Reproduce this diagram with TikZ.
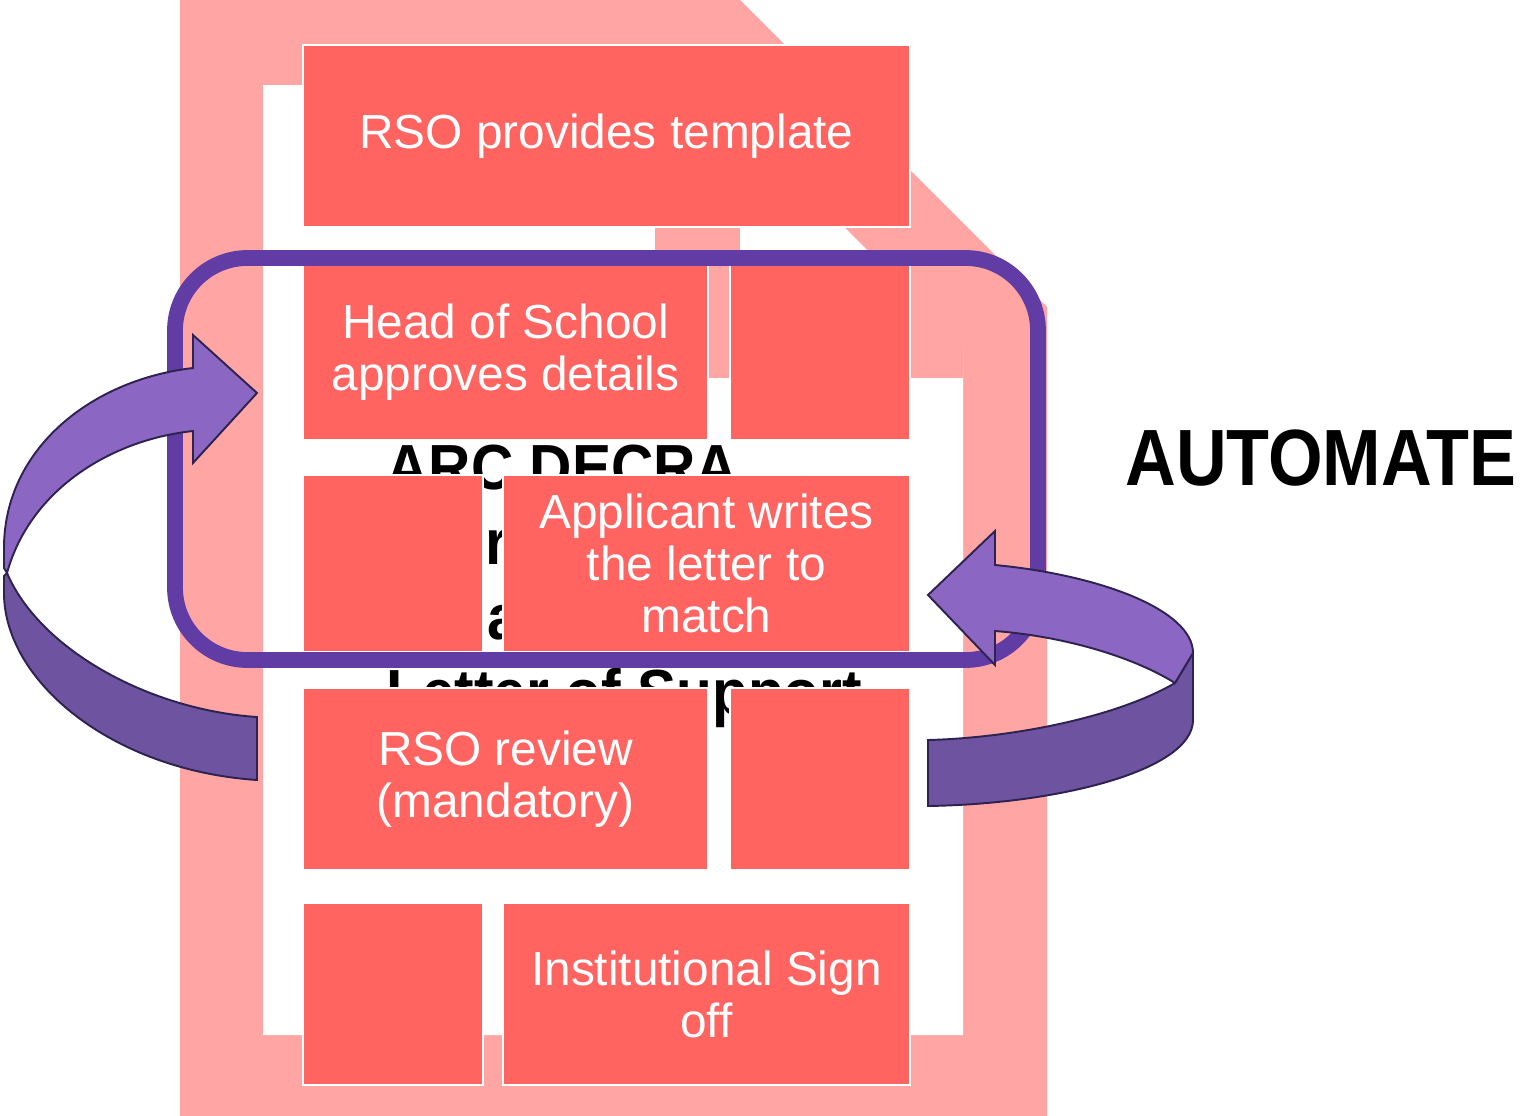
\documentclass[tikz,border=0pt]{standalone}
\usepackage{fontspec}
\setmainfont{Liberation Sans}
\newfontfamily\autofont[FakeStretch=0.88]{Liberation Sans Bold}
\newfontfamily\docfont[FakeStretch=0.92]{Liberation Sans Bold}
\usetikzlibrary{fit}
\definecolor{docpink}{HTML}{FFA6A5}
\definecolor{coral}{HTML}{FF6461}
\definecolor{framepurple}{HTML}{623CA5}
\definecolor{arrlight}{HTML}{8B67C3}
\definecolor{arrdark}{HTML}{6D53A0}
\definecolor{arrline}{HTML}{2E2350}
\tikzset{
  stepbox/.style={draw=white, line width=1.2pt, fill=coral, inner sep=0pt},
  boxtext/.style={text=white, inner sep=0pt, font=\fontsize{27.2}{29.5}\selectfont, align=center},
  doctext/.style={font=\docfont\fontsize{36.3}{42.5}\selectfont, text=black, inner sep=0pt, anchor=base west},
  arrowlight/.style={fill=arrlight, draw=arrline, line width=1.1pt, line join=miter},
  arrowdark/.style={fill=arrdark, draw=arrline, line width=1.1pt, line join=miter},
  loopframe/.style={draw=framepurple, line width=9pt, rounded corners=1.45cm, inner sep=0pt}
}
\begin{document}
\begin{tikzpicture}[x=0.02cm,y=-0.02cm]
\useasboundingbox (0,0) rectangle (1522,1116);
% document icon
\fill[docpink] (180,0) -- (740,0) -- (1047,307) -- (1047,1116) -- (180,1116) -- cycle;
\fill[white] (263,85) -- (702,85) -- (963,346) -- (963,1035) -- (263,1035) -- cycle;
\fill[docpink] (655,85) rectangle (740,378);
\fill[docpink] (655,293) rectangle (963,378);
% hidden title text
\node[doctext] (t1) at (386,489) {ARC DECRA};
\node[doctext] (t2) at (485,564) {r};
\node[doctext] (t3) at (487,639) {a};
\node[doctext] (t4) at (386,714) {Letter of Support};
% boxes
\node[stepbox, fit={(303,45)(910,227)}] (b1) {};
\node[stepbox, fit={(303,265)(708,440)}] (b2) {};
\node[stepbox, fit={(730,265)(910,440)}] (b3) {};
\node[stepbox, fit={(303,475)(483,652)}] (b4) {};
\node[stepbox, fit={(503,475)(910,652)}] (b5) {};
\node[stepbox, fit={(303,688)(708,870)}] (b6) {};
\node[stepbox, fit={(730,688)(910,870)}] (b7) {};
\node[stepbox, fit={(303,903)(483,1085)}] (b8) {};
\node[stepbox, fit={(503,903)(910,1085)}] (b9) {};
\node[boxtext] (b1t) at (b1.center) {RSO provides template};
\node[boxtext] (b2t) at (b2.center) {Head of School\\approves details};
\node[boxtext] (b5t) at (b5.center) {Applicant writes\\the letter to\\match};
\node[boxtext] (b6t) at (b6.center) {RSO review\\(mandatory)};
\node[boxtext] (b9t) at (b9.center) {Institutional Sign\\off};
% purple loop frame
\node[loopframe, fit={(175,258)(1038,660)}] (loop) {};
% left curved arrow
\path[arrowdark] (7,573) .. controls (40,650) and (150,710) .. (257,717) -- (257,780)
  .. controls (110,770) and (4,680) .. (4,593) -- (4,576) -- cycle;
\path[arrowlight] (193,368) .. controls (90,380) and (4,450) .. (4,548) -- (4,568) -- (7,573)
  .. controls (30,490) and (110,440) .. (193,431) -- (193,463) -- (257,393) -- (193,335) -- cycle;
% right curved arrow
\path[arrowdark] (1175,683) -- (1193,653) -- (1193,720) .. controls (1193,770) and (1060,804) .. (928,806)
  -- (928,740) .. controls (1010,738) and (1115,718) .. (1175,683) -- cycle;
\path[arrowlight] (995,565) .. controls (1100,575) and (1193,610) .. (1193,653) -- (1175,683)
  .. controls (1130,655) and (1060,636) .. (995,631) -- (995,665) -- (928,595) -- (995,531) -- cycle;
% label
\node[font=\autofont\fontsize{45.4}{50}\selectfont, anchor=base, inner sep=0pt] (auto) at (1321,485) {AUTOMATE};
\end{tikzpicture}
\end{document}
